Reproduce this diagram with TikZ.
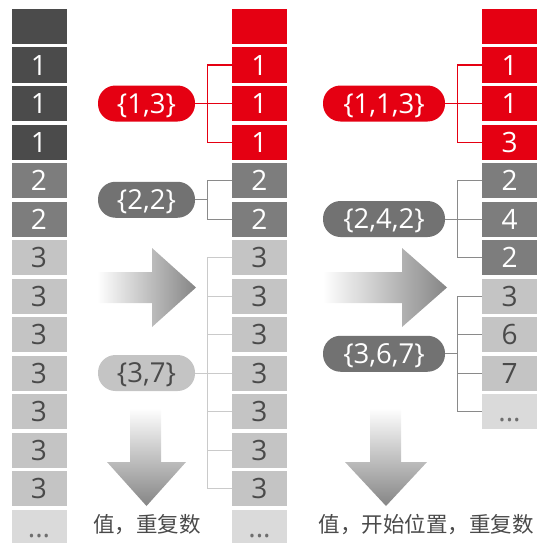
\documentclass[tikz,border=0pt]{standalone}
\usepackage{fontspec}
\setmainfont{Open Sans}
\newfontfamily\cjk{Noto Sans CJK SC}
\usepackage{xcolor}
\definecolor{cellred}{HTML}{E50012}
\definecolor{celldark}{HTML}{4B4B4B}
\definecolor{cellmid}{HTML}{7D7D7D}
\definecolor{celllight}{HTML}{C4C4C4}
\definecolor{cellpale}{HTML}{DADADA}
\definecolor{pillgray}{HTML}{727272}
\definecolor{inktext}{HTML}{4A4A4A}
\definecolor{arrowgray}{HTML}{858585}
\newcommand\moredots{...}

\tikzset{
  cell/.style={minimum width=55pt, minimum height=35pt, inner sep=0pt,
    text height=20pt, text depth=0pt, font=\fontsize{28}{28}\selectfont},
  redcell/.style={cell, fill=cellred, text=white},
  darkcell/.style={cell, fill=celldark, text=white},
  midcell/.style={cell, fill=cellmid, text=white},
  lightcell/.style={cell, fill=celllight, text=inktext},
  palecell/.style={cell, fill=cellpale, text=inktext!80},
  pill/.style={rounded corners=17.5pt, minimum height=36pt, inner sep=0pt,
    text height=19pt, text depth=0pt, font=\fontsize{27.5}{27.5}\selectfont},
  redline/.style={draw=cellred, line width=1pt},
  midline/.style={draw=cellmid!90, line width=1pt},
  lightline/.style={draw=celllight!90, line width=1pt},
  captext/.style={font=\cjk\fontsize{21.5}{21.5}\selectfont, text=inktext},
}

\begin{document}
\begin{tikzpicture}[x=1pt, y=-1pt]
    \useasboundingbox (0,0) rectangle (537,543);

    % Columns of cells
    \foreach \s/\v [count=\i from 0] in {darkcell/{}, darkcell/1, darkcell/1, darkcell/1,
        midcell/2, midcell/2, lightcell/3, lightcell/3, lightcell/3, lightcell/3,
        lightcell/3, lightcell/3, lightcell/3, palecell/\moredots}
        \node[\s] (a\i) at (39, 26.5+38.5*\i) {\v};
    \foreach \s/\v [count=\i from 0] in {redcell/{}, redcell/1, redcell/1, redcell/1,
        midcell/2, midcell/2, lightcell/3, lightcell/3, lightcell/3, lightcell/3,
        lightcell/3, lightcell/3, lightcell/3, palecell/\moredots}
        \node[\s] (b\i) at (259.5, 26.5+38.5*\i) {\v};
    \foreach \s/\v [count=\i from 0] in {redcell/{}, redcell/1, redcell/1, redcell/3,
        midcell/2, midcell/4, midcell/2, lightcell/3, lightcell/6, lightcell/7,
        palecell/\moredots}
        \node[\s] (c\i) at (509.5, 26.5+38.5*\i) {\v};

    % Groups: value, count
    \node[pill, minimum width=97pt, fill=cellred, text=white] (p13) at (146.5,103.5) {\{1,3\}};
    \node[pill, minimum width=97pt, fill=pillgray, text=white] (p22) at (146.5,199.75) {\{2,2\}};
    \node[pill, minimum width=97pt, fill=celllight, text=inktext] (p37) at (146.5,373) {\{3,7\}};

    % Groups: value, start, count
    \node[pill, minimum width=122pt, fill=cellred, text=white] (q113) at (384,103.5) {\{1,1,3\}};
    \node[pill, minimum width=122pt, fill=pillgray, text=white] (q242) at (384,219) {\{2,4,2\}};
    \node[pill, minimum width=122pt, fill=pillgray, text=white] (q367) at (384,353.75) {\{3,6,7\}};

    % Brackets, middle column
    \draw[redline] (b1.west) -- ++(-24,0) |- (b3.west);
    \draw[redline] (p13.east) -- (b2.west);
    \coordinate (v22) at ([xshift=-24pt]b4.west);
    \draw[midline] (b4.west) -- (v22) |- (b5.west);
    \draw[midline] (p22.east) -- (p22.east -| v22);
    \draw[lightline] (b6.west) -- ++(-24,0) |- (b12.west);
    \foreach \i in {7,...,11}
        \draw[lightline] (b\i.west) -- ++(-24,0);
    \draw[lightline] (p37.east) -- (b9.west);

    % Brackets, right column
    \draw[redline] (c1.west) -- ++(-24,0) |- (c3.west);
    \draw[redline] (q113.east) -- (c2.west);
    \draw[midline] (c4.west) -- ++(-24,0) |- (c6.west);
    \draw[midline] (q242.east) -- (c5.west);
    \coordinate (v367) at ([xshift=-24pt]c7.west);
    \draw[midline] (c7.west) -- (v367) |- (c10.west);
    \foreach \i in {8,9}
        \draw[midline] (c\i.west) -- ++(-24,0);
    \draw[midline] (q367.east) -- (q367.east -| v367);

    % Arrows
    \shade[left color=white, right color=arrowgray]
        (97,272) -- (152,272) -- (152,248) -- (196,287.5) -- (152,327) -- (152,303) -- (97,303) -- cycle;
    \shade[top color=white, bottom color=arrowgray]
        (130,408) -- (161,408) -- (161,462) -- (186,462) -- (146.5,506) -- (107,462) -- (130,462) -- cycle;
    \shade[left color=white, right color=arrowgray]
        (323,272) -- (402,272) -- (402,248) -- (447,287.5) -- (402,327) -- (402,303) -- (323,303) -- cycle;
    \shade[top color=white, bottom color=arrowgray]
        (370,408) -- (401,408) -- (401,462) -- (427,462) -- (386,506) -- (345,462) -- (370,462) -- cycle;

    % Captions
    \node[captext] (note1) at (147,525) {值，重复数};
    \node[captext] (note2) at (426,525) {值，开始位置，重复数};
\end{tikzpicture}
\end{document}
